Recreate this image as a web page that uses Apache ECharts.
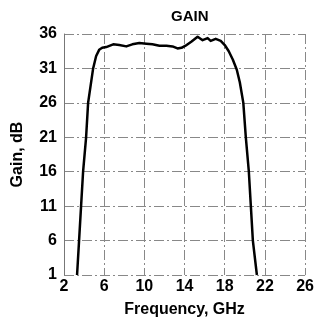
<!DOCTYPE html>
<html>
<head>
<meta charset="utf-8">
<script src="https://cdn.jsdelivr.net/npm/echarts@6/dist/echarts.min.js"></script>
<style>
  html, body { margin: 0; padding: 0; background: #fff; }
  #chart { width: 317px; height: 323px; }
</style>
</head>
<body>
<div id="chart"></div>
<script>
// frequency (GHz) and gain (dB)
var freq = [3.3, 3.5, 3.7, 3.9, 4.2, 4.4, 4.9, 5.2, 5.5, 5.8, 6.2, 6.9, 7.5, 8.2, 8.8, 9.5, 10.2, 10.8, 11.5, 12.2, 12.8, 13.3, 13.7, 14.1, 14.7, 15.3, 15.8, 16.3, 16.6, 17.1, 17.6, 18.0, 18.4, 18.8, 19.2, 19.5, 19.85, 20.1, 20.4, 20.6, 20.8, 21.2];
var gain = [1, 6, 11, 16, 21, 26, 31, 32.8, 33.7, 34.0, 34.1, 34.5, 34.4, 34.2, 34.5, 34.7, 34.6, 34.5, 34.3, 34.3, 34.2, 33.9, 34.0, 34.3, 34.9, 35.6, 35.1, 35.4, 35.0, 35.3, 35.0, 34.4, 33.5, 32.3, 30.8, 29.0, 26, 21, 16, 11, 6, 1];
var xTicks = { min: 2, max: 26, step: 4 };
var yTicks = { min: 1, max: 36, step: 5 };

var points = [];
for (var i = 0; i < freq.length; i++) {
  points.push([freq[i], gain[i]]);
}

var chart = echarts.init(document.getElementById("chart"));
var font = "Liberation Sans, Arial, sans-serif";
var gridLine = { color: "#888", width: 1, type: [10, 3, 2, 3] };
var option = {
  animation: false,
  title: {
    text: "GAIN",
    left: 166,
    top: 4,
    textStyle: { fontFamily: font, fontWeight: "bold", fontSize: 15, color: "#000" }
  },
  grid: { left: 64, right: 11, top: 34, bottom: 48 },
  xAxis: {
    type: "value",
    min: xTicks.min,
    max: xTicks.max,
    interval: xTicks.step,
    name: "Frequency, GHz",
    nameLocation: "middle",
    nameGap: 27,
    nameTextStyle: { fontFamily: font, fontWeight: "bold", fontSize: 16, color: "#000" },
    axisLine: { show: false },
    axisTick: { show: false },
    axisLabel: { fontFamily: font, fontWeight: "bold", fontSize: 16, color: "#000", margin: 4 },
    splitLine: { lineStyle: gridLine }
  },
  yAxis: {
    type: "value",
    min: yTicks.min,
    max: yTicks.max,
    interval: yTicks.step,
    name: "Gain, dB",
    nameLocation: "middle",
    nameGap: 38,
    nameTextStyle: { fontFamily: font, fontWeight: "bold", fontSize: 16, color: "#000" },
    axisLine: { show: true, lineStyle: { color: "#777", width: 1 } },
    axisTick: { show: false },
    axisLabel: { fontFamily: font, fontWeight: "bold", fontSize: 16, color: "#000", margin: 7 },
    splitLine: { lineStyle: gridLine }
  },
  series: [{
    type: "line",
    data: points,
    symbol: "none",
    lineStyle: { color: "#000", width: 2.5, join: "round" }
  }]
};
chart.setOption(option);
</script>
</body>
</html>
